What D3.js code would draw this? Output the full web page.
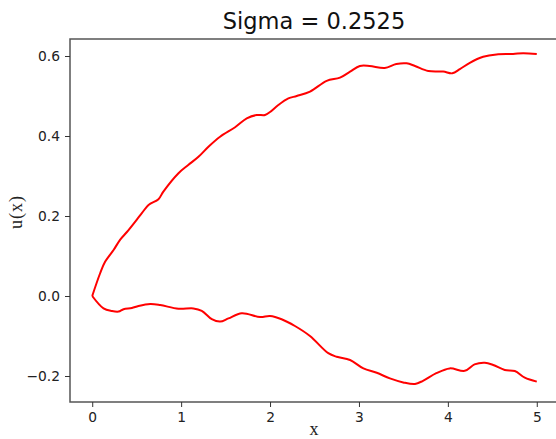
<!DOCTYPE html>
<html>
<head>
<meta charset="utf-8">
<script src="https://cdn.jsdelivr.net/npm/d3@7"></script>
<style>
  body { margin: 0; background: #fff; }
  svg { display: block; }
</style>
</head>
<body>
<div id="chart"></div>
<script>
// verdiar lesne av biletet
const titleText = 'Sigma = 0.2525';
const xTicks = [0, 1, 2, 3, 4, 5];
const yTicks = [-0.2, 0.0, 0.2, 0.4, 0.6];

const upperX = [0, 0.09, 0.146, 0.24, 0.315, 0.39, 0.558, 0.633, 0.745, 0.80, 0.97, 1.08, 1.195, 1.307, 1.438, 1.607, 1.738, 1.85, 1.944, 2.0, 2.093, 2.206, 2.30, 2.45, 2.637, 2.787, 2.90, 3.01, 3.12, 3.29, 3.42, 3.536, 3.63, 3.78, 3.947, 4.05, 4.135, 4.247, 4.397, 4.547, 4.734, 4.846, 5.0];
const upperY = [0, 0.0575, 0.086, 0.115, 0.141, 0.16, 0.207, 0.2275, 0.242, 0.261, 0.307, 0.3275, 0.348, 0.373, 0.398, 0.422, 0.444, 0.4525, 0.4525, 0.46, 0.4775, 0.494, 0.50, 0.511, 0.538, 0.546, 0.561, 0.575, 0.575, 0.57, 0.58, 0.5817, 0.575, 0.5625, 0.561, 0.5567, 0.567, 0.583, 0.598, 0.604, 0.605, 0.607, 0.605];

const lowerX = [0, 0.127, 0.22, 0.296, 0.352, 0.446, 0.52, 0.652, 0.764, 0.97, 1.138, 1.232, 1.345, 1.438, 1.532, 1.682, 1.888, 2.0, 2.13, 2.28, 2.449, 2.655, 2.749, 2.90, 3.05, 3.20, 3.348, 3.498, 3.63, 3.72, 3.87, 4.02, 4.19, 4.30, 4.416, 4.51, 4.64, 4.753, 4.865, 5.0];
const lowerY = [0, -0.031, -0.0375, -0.039, -0.033, -0.03, -0.025, -0.02, -0.0225, -0.0318, -0.031, -0.037, -0.058, -0.064, -0.056, -0.043, -0.0525, -0.05, -0.058, -0.075, -0.1, -0.143, -0.152, -0.16, -0.181, -0.192, -0.206, -0.216, -0.22, -0.212, -0.193, -0.181, -0.187, -0.171, -0.167, -0.1725, -0.185, -0.1875, -0.204, -0.214];

const width = 556, height = 439;
const margin = { left: 70, right: -3, top: 39, bottom: 37 };

const svg = d3.select('#chart').append('svg')
  .attr('width', width)
  .attr('height', height);

const x = d3.scaleLinear().domain([-0.25, 5.25]).range([margin.left, width - margin.right]);
const y = d3.scaleLinear().domain([-0.265, 0.6425]).range([height - margin.bottom, margin.top]);

// ramme
svg.append('rect')
  .attr('x', margin.left).attr('y', margin.top)
  .attr('width', width - margin.right - margin.left)
  .attr('height', height - margin.bottom - margin.top)
  .attr('fill', 'none').attr('stroke', '#555').attr('stroke-width', 1.5);

const fmt = d3.format('.1f');
const xAxis = svg.append('g')
  .attr('transform', `translate(0,${height - margin.bottom})`)
  .call(d3.axisBottom(x).tickValues(xTicks).tickFormat(d3.format('d')).tickSize(5).tickPadding(5));
const yAxis = svg.append('g')
  .attr('transform', `translate(${margin.left},0)`)
  .call(d3.axisLeft(y).tickValues(yTicks).tickFormat(d => fmt(d).replace('-', '\u2212')).tickSize(5).tickPadding(5));

[xAxis, yAxis].forEach(a => {
  a.select('.domain').remove();
  a.selectAll('.tick line').attr('stroke', '#333').attr('stroke-width', 1);
  a.selectAll('.tick text')
    .attr('fill', '#222')
    .style('font-family', 'DejaVu Sans, sans-serif')
    .style('font-size', '13.8px');
});

// kurver
const line = d3.line()
  .x(d => x(d[0]))
  .y(d => y(d[1]))
  .curve(d3.curveCatmullRom.alpha(0.5));

[[upperX, upperY], [lowerX, lowerY]].forEach(([xs, ys]) => {
  svg.append('path')
    .datum(xs.map((v, i) => [v, ys[i]]))
    .attr('d', line)
    .attr('fill', 'none')
    .attr('stroke', '#ff0000')
    .attr('stroke-width', 2)
    .attr('stroke-linejoin', 'round');
});

// tekstar
svg.append('text')
  .attr('x', 314).attr('y', 29)
  .attr('text-anchor', 'middle')
  .style('font-family', 'DejaVu Sans, sans-serif')
  .style('font-size', '22.5px')
  .attr('fill', '#111')
  .text(titleText);

svg.append('text')
  .attr('x', 314).attr('y', 435)
  .attr('text-anchor', 'middle')
  .style('font-family', 'Liberation Serif, serif')
  .style('font-size', '18px')
  .attr('fill', '#222')
  .text('x');

svg.append('text')
  .attr('transform', 'translate(22,212) rotate(-90)')
  .attr('text-anchor', 'middle')
  .style('font-family', 'Liberation Serif, serif')
  .style('font-size', '18px')
  .style('letter-spacing', '1px')
  .attr('fill', '#222')
  .text('u(x)');
</script>
</body>
</html>
